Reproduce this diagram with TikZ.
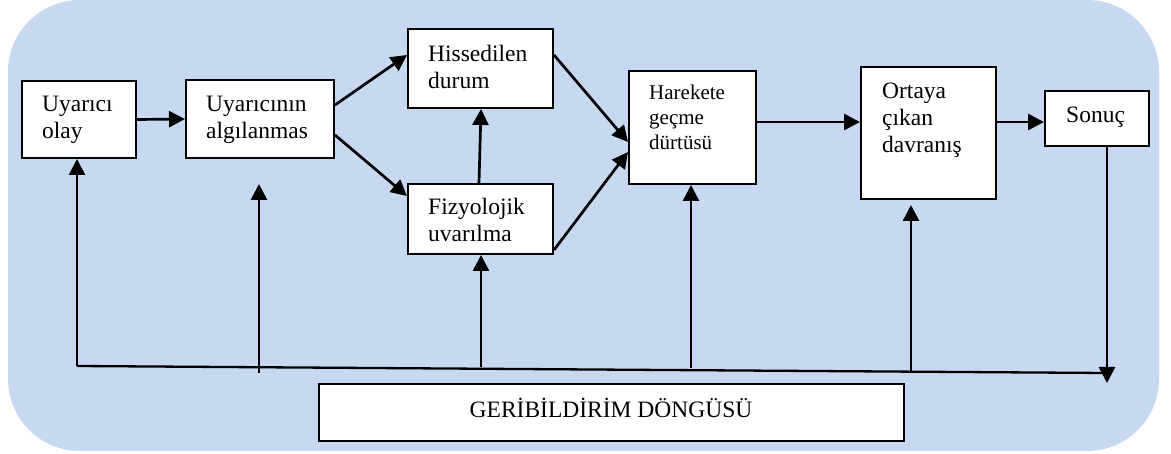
\documentclass[tikz,border=0pt]{standalone}
\usepackage{fontspec}
\setmainfont{Liberation Serif}
\usetikzlibrary{arrows.meta,calc}
\definecolor{panel}{RGB}{198,217,240}
\newcommand\stack[1]{\begin{tabular}[t]{@{}l@{}}#1\end{tabular}}
\begin{document}
\begin{tikzpicture}[x=1pt,y=-1pt,
  box/.style={draw=black, line width=2pt, fill=white, inner sep=0, anchor=north west},
  lbl/.style={anchor=base west, inner sep=0, font=\fontsize{23.5}{27}\selectfont},
  small/.style={font=\fontsize{21}{25}\selectfont},
  link/.style={line width=2.7pt, -{Triangle[length=16pt,width=16pt]}},
  plain/.style={line width=2.3pt}]
\useasboundingbox (0,0) rectangle (1171,454);
% panel behind the whole chart
\fill[panel, rounded corners=72pt] (8,0) rectangle (1159,451);

% boxes
\node[box, minimum width=114pt, minimum height=77pt]  (olay) at (21,80) {};
\node[box, minimum width=148pt, minimum height=78pt]  (alg)  at (185,79) {};
\node[box, minimum width=145pt, minimum height=79pt]  (hiss) at (407,28) {};
\node[box, minimum width=145pt, minimum height=70pt]  (fiz)  at (407,183) {};
\node[box, minimum width=127pt, minimum height=113pt] (hare) at (628,70) {};
\node[box, minimum width=135pt, minimum height=132pt] (ort)  at (860,66) {};
\node[box, minimum width=104pt, minimum height=55pt]  (son)  at (1044,90) {};
\node[box, minimum width=585pt, minimum height=57pt]  (geri) at (318,383) {};

% box texts
\node[lbl] (olayT) at (42,112)  {\stack{Uyarıcı\\olay}};
\node[lbl] (algT)  at (206,112) {\stack{Uyarıcının\\algılanmas}};
\node[lbl] (hissT) at (428,62)  {\stack{Hissedilen\\durum}};
\node[lbl] (fizT)  at (428,215) {\stack{Fizyolojik\\uvarılma}};
\node[lbl, small] (hareT) at (649,100) {\stack{Harekete\\geçme\\dürtüsü}};
\node[lbl] (ortT)  at (882,99)  {\stack{Ortaya\\çıkan\\davranış}};
\node[lbl] (sonT)  at (1066,123) {Sonuç};
\node[lbl, anchor=base] (geriT) at (611,418) {GERİBİLDİRİM DÖNGÜSÜ};

% forward flow
\draw[link] (olay.east) -- (alg.west);
\draw[link] ($(alg.north east)+(0,26)$) -- ($(hiss.north west)+(0,27)$);
\draw[link] ($(alg.north east)+(0,56)$) -- ($(fiz.north west)+(0,13)$);
\draw[link] ($(fiz.north west)+(72,0)$) -- ($(hiss.south west)+(74,0)$);
\draw[link] ($(hiss.north east)+(0,27)$) -- ($(hare.north west)+(0,72)$);
\draw[link] ($(fiz.north east)+(0,67)$) -- ($(hare.north west)+(0,82)$);
\draw[link] ($(hare.north east)+(0,52)$) -- ($(ort.north west)+(0,56)$);
\draw[link] ($(ort.north east)+(0,56)$) -- ($(son.north west)+(0,32)$);

% feedback loop
\coordinate (fbL) at (77,366);
\coordinate (fbR) at (1107,373);
\draw[plain] (fbL) -- (fbR);
\draw[link] (fbL) -- (fbL |- olay.south);
\coordinate (f2a) at (259,373); \coordinate (f2b) at (259,184);
\draw[link] (f2a) -- (f2b);
\coordinate (f3) at (481,367);
\draw[link] (f3) -- (f3 |- fiz.south);
\coordinate (f4) at (691,368);
\draw[link] (f4) -- (f4 |- hare.south);
\coordinate (f5a) at (911,373); \coordinate (f5b) at (911,205);
\draw[link] (f5a) -- (f5b);
\coordinate (fbEnd) at (1107,383);
\draw[link] (son.south -| fbEnd) -- (fbEnd);
\end{tikzpicture}
\end{document}
